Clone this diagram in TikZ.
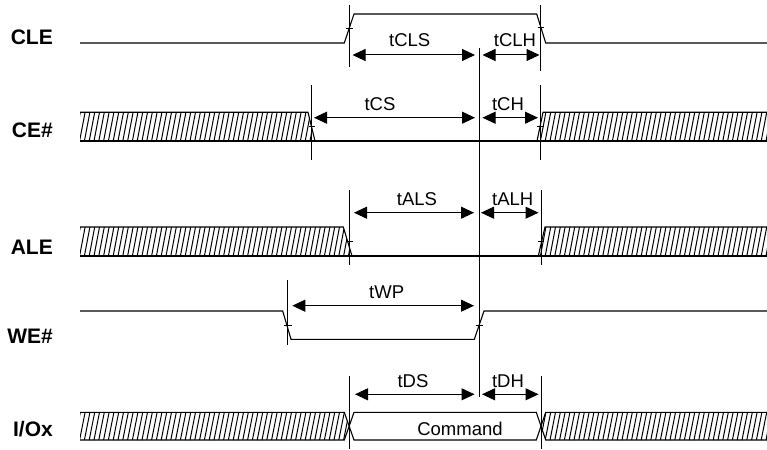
\documentclass[tikz,border=0pt]{standalone}
\usepackage{fontspec}
\setmainfont{Liberation Sans}
\usetikzlibrary{arrows.meta}
\begin{document}
\begin{tikzpicture}[x=1pt,y=-1pt,
  sig/.style={line width=1.1pt},
  refl/.style={line width=1pt},
  tick/.style={line width=0.8pt},
  dim/.style={line width=1pt,{Triangle[length=13pt,width=12pt]}-{Triangle[length=13pt,width=12pt]}},
  hat/.style={line width=1pt},
  lbl/.style={font=\fontsize{21}{22}\selectfont\bfseries, anchor=east, inner sep=0pt, text height=15pt, text depth=0pt},
  tlbl/.style={font=\fontsize{18.5}{19}\selectfont, inner sep=0pt, text height=13.2pt, text depth=0pt},
]
\useasboundingbox (0,0) rectangle (767,449);

\newcommand\hatchin[3]{% #1 clip path, #2 top y, #3 bottom y
  \begin{scope}
    \clip #1;
    \foreach \k in {0,...,148} {\draw[hat] ({70+4.8*\k},#3) -- ({75.5+4.8*\k},#2);}
  \end{scope}}

% labels
\node[lbl] (lcle) at (53,37) {CLE};
\node[lbl] (lce) at (53,130) {CE\#};
\node[lbl] (lale) at (53,246.7) {ALE};
\node[lbl] (lwe) at (53,336) {WE\#};
\node[lbl] (lio) at (53,429) {I/Ox};

% CLE
\draw[sig] (80,43) -- (344.3,43) -- (354,14) -- (536.7,14) -- (545.7,43) -- (767,43);

% CE#
\hatchin{(80,112.3) -- (308,112.3) -- (315,141) -- (80,141) -- cycle}{112.3}{141}
\hatchin{(537,141) -- (543,112.3) -- (767,112.3) -- (767,141) -- cycle}{112.3}{141}
\draw[sig] (80,112.3) -- (308,112.3) -- (315,141);
\draw[sig] (80,141) -- (767,141);
\draw[sig] (537,141) -- (543,112.3) -- (767,112.3);

% ALE
\hatchin{(80,227) -- (343.3,227) -- (352,256) -- (80,256) -- cycle}{227}{256}
\hatchin{(538.3,256) -- (545,227) -- (767,227) -- (767,256) -- cycle}{227}{256}
\draw[sig] (80,227) -- (343.3,227) -- (352,256);
\draw[sig] (80,256) -- (767,256);
\draw[sig] (538.3,256) -- (545,227) -- (767,227);

% WE#
\draw[sig] (80,311) -- (282.7,311) -- (291,339.3) -- (474.3,339.3) -- (484,311) -- (767,311);

% I/Ox
\hatchin{(80,412.3) -- (344.3,412.3) -- (349,426.2) -- (344.3,440) -- (80,440) -- cycle}{412.3}{440}
\hatchin{(545.7,412.3) -- (541,426.2) -- (545.7,440) -- (767,440) -- (767,412.3) -- cycle}{412.3}{440}
\draw[sig] (80,412.3) -- (344.3,412.3) -- (354,440) -- (536.3,440) -- (545.7,412.3) -- (767,412.3);
\draw[sig] (80,440) -- (344.3,440) -- (354,412.3) -- (536.3,412.3) -- (545.7,440) -- (767,440);
\node[tlbl] (cmd) at (460,429) {Command};

% reference lines
\draw[refl] (349,5) -- (349,66.7);
\draw[refl] (540.7,5) -- (540.7,70.7);
\draw[refl] (311.7,85) -- (311.7,160);
\draw[refl] (540.7,85) -- (540.7,160);
\draw[refl] (349.3,190) -- (349.3,265);
\draw[refl] (541,190) -- (541,265);
\draw[refl] (287.7,280) -- (287.7,345);
\draw[refl] (349,376) -- (349,449);
\draw[refl] (541,376) -- (541,449);
\draw[refl] (479.3,48) -- (479.3,397);

% ticks
\draw[tick] (346,28.3) -- (352.5,28.3);
\draw[tick] (537.5,27.7) -- (544,27.7);
\draw[tick] (308.5,126.7) -- (315,126.7);
\draw[tick] (537,126.7) -- (543.5,126.7);
\draw[tick] (346.5,241.7) -- (353,241.7);
\draw[tick] (538,241.7) -- (544,241.7);
\draw[tick] (283.5,325) -- (291.5,325);
\draw[tick] (476,325) -- (482.5,325);

% dimension arrows
\draw[dim] (352.5,55) -- (475,55);
\draw[dim] (482.5,55) -- (539.5,55);
\draw[dim] (314,117.7) -- (475,117.7);
\draw[dim] (482.5,117.7) -- (538,117.7);
\draw[dim] (354,212.7) -- (474,212.7);
\draw[dim] (481,212.7) -- (538.5,212.7);
\draw[dim] (292.3,305.7) -- (474,305.7);
\draw[dim] (355,394.3) -- (474.5,394.3);
\draw[dim] (482,394.3) -- (538.5,394.3);

% timing labels
\node[tlbl] (tcls) at (409.7,40) {tCLS};
\node[tlbl] (tclh) at (515,40) {tCLH};
\node[tlbl] (tcs) at (380,104) {tCS};
\node[tlbl] (tch) at (508,104) {tCH};
\node[tlbl] (tals) at (417,199) {tALS};
\node[tlbl] (talh) at (512.7,199) {tALH};
\node[tlbl] (twp) at (386.7,291.7) {tWP};
\node[tlbl] (tds) at (413,380.7) {tDS};
\node[tlbl] (tdh) at (508,380.7) {tDH};
\end{tikzpicture}
\end{document}
